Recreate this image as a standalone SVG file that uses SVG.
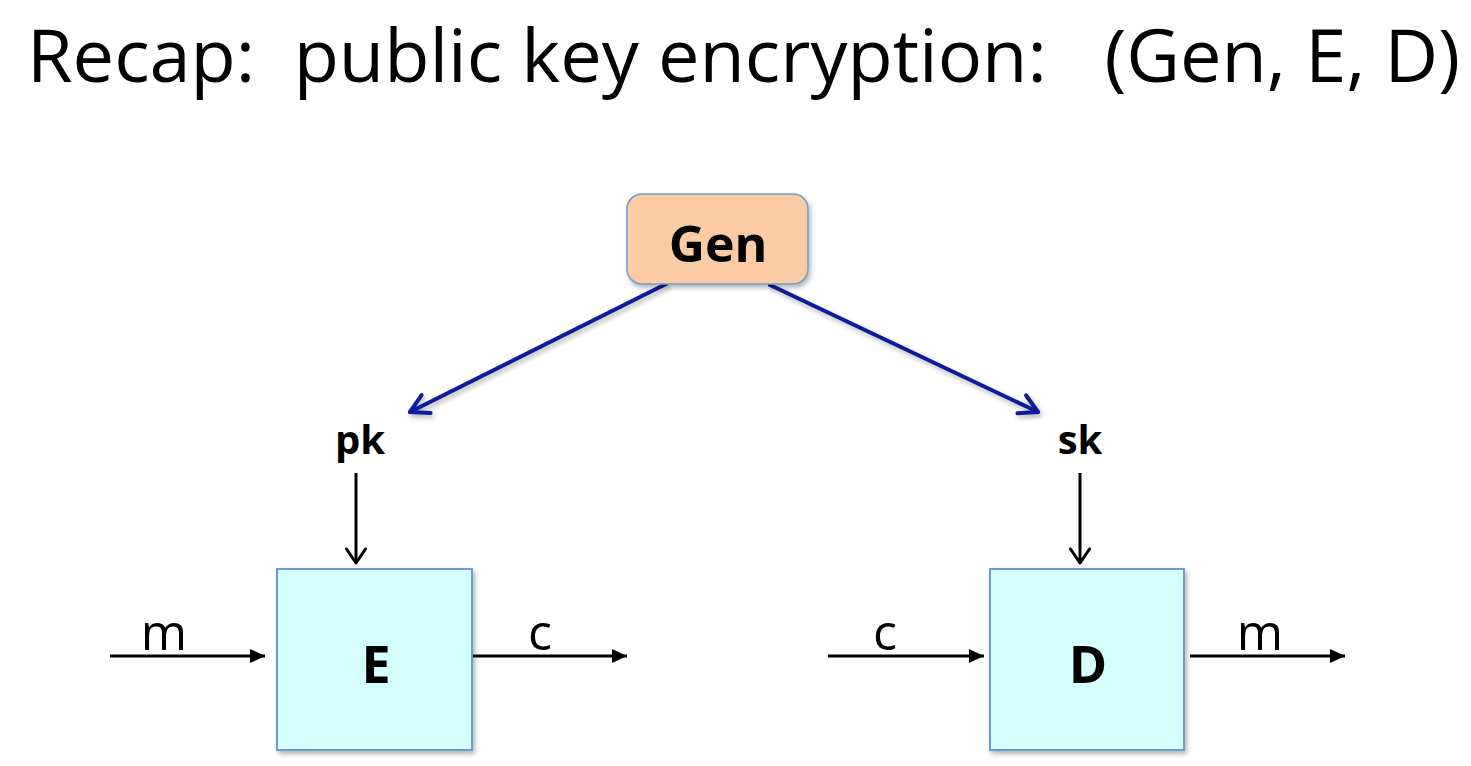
<svg xmlns="http://www.w3.org/2000/svg" width="1471" height="766" viewBox="0 0 1471 766">
  <defs>
    <style>
      .title { font-family: "Open Sans", "Liberation Sans", sans-serif; font-size: 73px; fill: #000; }
      .lbl { font-family: "Open Sans", "Liberation Sans", sans-serif; font-weight: bold; fill: #000; text-anchor: middle; }
      .var { font-family: "Open Sans", "Liberation Sans", sans-serif; font-size: 50px; fill: #000; text-anchor: middle; }
      .box { fill: #D5FFFF; stroke: #6A9BD1; stroke-width: 2; }
      .gen { fill: #FBCBA3; stroke: #6D9BCE; stroke-width: 1.5; }
      .blk { stroke: #000; stroke-width: 3; fill: none; }
      .blue { stroke: #0E1D9B; stroke-width: 4; fill: none; stroke-linecap: round; }
    </style>
    <filter id="sh" x="-10%" y="-10%" width="130%" height="130%">
      <feGaussianBlur in="SourceAlpha" stdDeviation="2.5"/>
      <feOffset dx="2" dy="3" result="b"/>
      <feComponentTransfer><feFuncA type="linear" slope="0.3"/></feComponentTransfer>
      <feMerge><feMergeNode/><feMergeNode in="SourceGraphic"/></feMerge>
    </filter>
    <marker id="tri" markerUnits="userSpaceOnUse" markerWidth="18" markerHeight="16" refX="15" refY="8" orient="auto">
      <path d="M0,1 L15,8 L0,15 Z" fill="#000"/>
    </marker>
    <marker id="vee" markerUnits="userSpaceOnUse" markerWidth="24" markerHeight="24" refX="16" refY="12" orient="auto">
      <path d="M2,2.5 L16,12 L2,21.5" fill="none" stroke="#000" stroke-width="3" stroke-linecap="round" stroke-linejoin="round"/>
    </marker>
    <marker id="bvee" markerUnits="userSpaceOnUse" markerWidth="30" markerHeight="30" refX="22" refY="15" orient="auto">
      <path d="M4,5 L22,15 L4,25" fill="none" stroke="#0E1D9B" stroke-width="4" stroke-linecap="round" stroke-linejoin="round"/>
    </marker>
  </defs>

  <rect width="1471" height="766" fill="#fff"/>

  <text class="title" x="27" y="82" textLength="1433" lengthAdjust="spacingAndGlyphs" xml:space="preserve">Recap:  public key encryption:   (Gen, E, D)</text>

  <g id="connectors">
    <g filter="url(#sh)">
      <line class="blue" x1="666" y1="284" x2="410" y2="412" marker-end="url(#bvee)"/>
      <line class="blue" x1="770" y1="285" x2="1038" y2="412" marker-end="url(#bvee)"/>
    </g>
    <line class="blk" x1="356" y1="473" x2="356" y2="563" marker-end="url(#vee)"/>
    <line class="blk" x1="1080" y1="473" x2="1080" y2="563" marker-end="url(#vee)"/>
    <line class="blk" x1="110" y1="656" x2="265" y2="656" marker-end="url(#tri)"/>
    <line class="blk" x1="472" y1="656" x2="627" y2="656" marker-end="url(#tri)"/>
    <line class="blk" x1="828" y1="656" x2="984" y2="656" marker-end="url(#tri)"/>
    <line class="blk" x1="1190" y1="656" x2="1345" y2="656" marker-end="url(#tri)"/>
  </g>

  <g id="labels">
    <text class="lbl" x="360" y="454" font-size="40">pk</text>
    <text class="lbl" x="1080" y="454" font-size="40">sk</text>
    <text class="var" x="164" y="650">m</text>
    <text class="var" x="540" y="650">c</text>
    <text class="var" x="885" y="650">c</text>
    <text class="var" x="1260" y="650">m</text>
  </g>

  <g id="gen">
    <rect class="gen" x="627" y="194" width="181" height="90" rx="15" ry="15" filter="url(#sh)"/>
    <text class="lbl" x="718" y="262" font-size="50">Gen</text>
  </g>

  <g id="enc">
    <rect class="box" x="277" y="569" width="195" height="181" filter="url(#sh)"/>
    <text class="lbl" x="376" y="683" font-size="52">E</text>
  </g>

  <g id="dec">
    <rect class="box" x="990" y="569" width="194" height="181" filter="url(#sh)"/>
    <text class="lbl" x="1088" y="683" font-size="52">D</text>
  </g>
</svg>
